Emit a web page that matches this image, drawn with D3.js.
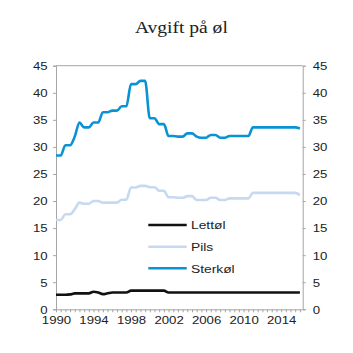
<!DOCTYPE html>
<html><head><meta charset="utf-8">
<script src="https://cdn.jsdelivr.net/npm/d3@7"></script>
<style>body{margin:0;background:#fff}svg{display:block}</style>
</head><body>
<script>
const periods = [1990,1990.5,1991,1991.5,1992,1992.5,1993,1993.5,1994,1994.5,1995,1995.5,1996,1996.5,1997,1997.5,1998,1998.5,1999,1999.5,2000,2000.5,2001,2001.5,2002,2002.5,2003,2003.5,2004,2004.5,2005,2005.5,2006,2006.5,2007,2007.5,2008,2008.5,2009,2009.5,2010,2010.5,2011,2011.5,2012,2012.5,2013,2013.5,2014,2014.5,2015,2015.5,2016];
const lettol = [2.7,2.7,2.7,2.75,2.95,2.95,2.95,2.95,3.25,3.1,2.8,2.95,3.1,3.1,3.1,3.1,3.45,3.45,3.45,3.45,3.45,3.45,3.45,3.45,3.1,3.1,3.1,3.1,3.1,3.1,3.1,3.1,3.1,3.1,3.1,3.1,3.1,3.1,3.1,3.1,3.1,3.1,3.1,3.1,3.1,3.1,3.1,3.1,3.1,3.1,3.1,3.1,3.1];
const pils = [16.5,16.5,17.55,17.55,18.5,19.7,19.5,19.5,20.0,20.0,19.7,19.7,19.7,19.7,20.25,20.25,22.5,22.5,22.8,22.8,22.55,22.55,21.9,21.9,20.7,20.7,20.6,20.6,20.9,20.9,20.2,20.2,20.2,20.6,20.6,20.2,20.2,20.5,20.5,20.5,20.5,20.5,21.5,21.5,21.5,21.5,21.5,21.5,21.5,21.5,21.5,21.5,21.1];
const sterkol = [28.4,28.4,30.3,30.3,31.9,34.5,33.6,33.6,34.5,34.5,36.4,36.4,36.7,36.7,37.5,37.5,41.6,41.6,42.2,42.2,35.3,35.3,34.2,34.2,32.0,32.0,31.9,31.9,32.5,32.5,31.9,31.7,31.7,32.2,32.2,31.7,31.7,32.0,32.0,32.0,32.0,32.0,33.6,33.6,33.6,33.6,33.6,33.6,33.6,33.6,33.6,33.6,33.4];
const seriesNames = ["Lettøl","Pils","Sterkøl"];
const seriesColors = ["#111111","#c6d9f1","#0a93d3"];
const yTicks = [0,5,10,15,20,25,30,35,40,45];
const xLabels = [1990,1994,1998,2002,2006,2010,2014];
const title = "Avgift på øl";

const W=353,H=353;
const L=56,R=302.7,T=65.7,B=309.3;
const SX=1.2;
const svg=d3.select("body").append("svg").attr("width",W).attr("height",H);
const x=d3.scaleLinear().domain([1990,2016.3]).range([L,R]);
const y=d3.scaleLinear().domain([0,45]).range([B,T]);
const gray="#a6a6a6";
const font="'Liberation Sans', Arial, sans-serif";

svg.append("text").attr("transform",`translate(${(L+R)/2+2},32.7) scale(1.15,1)`)
  .attr("text-anchor","middle").style("font-family","'Liberation Serif','Times New Roman',serif")
  .style("font-size","17px").attr("fill","#222").text(title);

// top border
svg.append("line").attr("x1",L).attr("x2",R).attr("y1",T).attr("y2",T).attr("stroke",gray).attr("stroke-width",1);

const ga=svg.append("g").attr("transform",`translate(${L},0)`).call(d3.axisLeft(y).tickValues(yTicks).tickSize(3));
ga.selectAll("text").attr("x",0).attr("dy","0.35em").attr("transform",`translate(-8.3,0) scale(${SX},1)`);
const gb=svg.append("g").attr("transform",`translate(${R},0)`).call(d3.axisRight(y).tickValues(yTicks).tickSize(3));
gb.selectAll("text").attr("x",0).attr("dy","0.35em").attr("transform",`translate(10,0) scale(${SX},1)`);
const halfTicks=periods.slice();
const gx=svg.append("g").attr("transform",`translate(0,${B})`).call(d3.axisBottom(x).tickValues(halfTicks).tickSize(3).tickFormat(d=>xLabels.includes(d)?String(d):""));
gx.selectAll("text").attr("y",0).attr("dy",0).attr("transform",`translate(0,14.2) scale(${SX},1)`);
[ga,gb,gx].forEach(g=>{
  g.select(".domain").attr("stroke",gray).attr("stroke-width",1);
  g.selectAll(".tick line").attr("stroke",gray);
  g.selectAll("text").attr("fill","#222").style("font-family",font).style("font-size","11px");
});
// bottom domain without outer ticks
gx.select(".domain").attr("d",`M${L},0.5H${R}`);

const data=[lettol,pils,sterkol];
const line=d3.line().x((d,i)=>x(periods[i])).y(d=>y(d)).curve(d3.curveMonotoneX);
[1,0,2].forEach(k=>{
  svg.append("path").datum(data[k]).attr("d",line).attr("fill","none")
    .attr("stroke",seriesColors[k]).attr("stroke-width",2.6).attr("stroke-linejoin","round");
});

// legend
const legY=[225,246.7,268.3];
seriesNames.forEach((n,i)=>{
  svg.append("line").attr("x1",148.3).attr("x2",186.7).attr("y1",legY[i]).attr("y2",legY[i])
    .attr("stroke",seriesColors[i]).attr("stroke-width",2.6);
  svg.append("text").attr("transform",`translate(191,${legY[i]+4.3}) scale(${SX},1)`)
    .style("font-family",font).style("font-size","11.5px").attr("fill","#222").text(n);
});
</script>
</body></html>
